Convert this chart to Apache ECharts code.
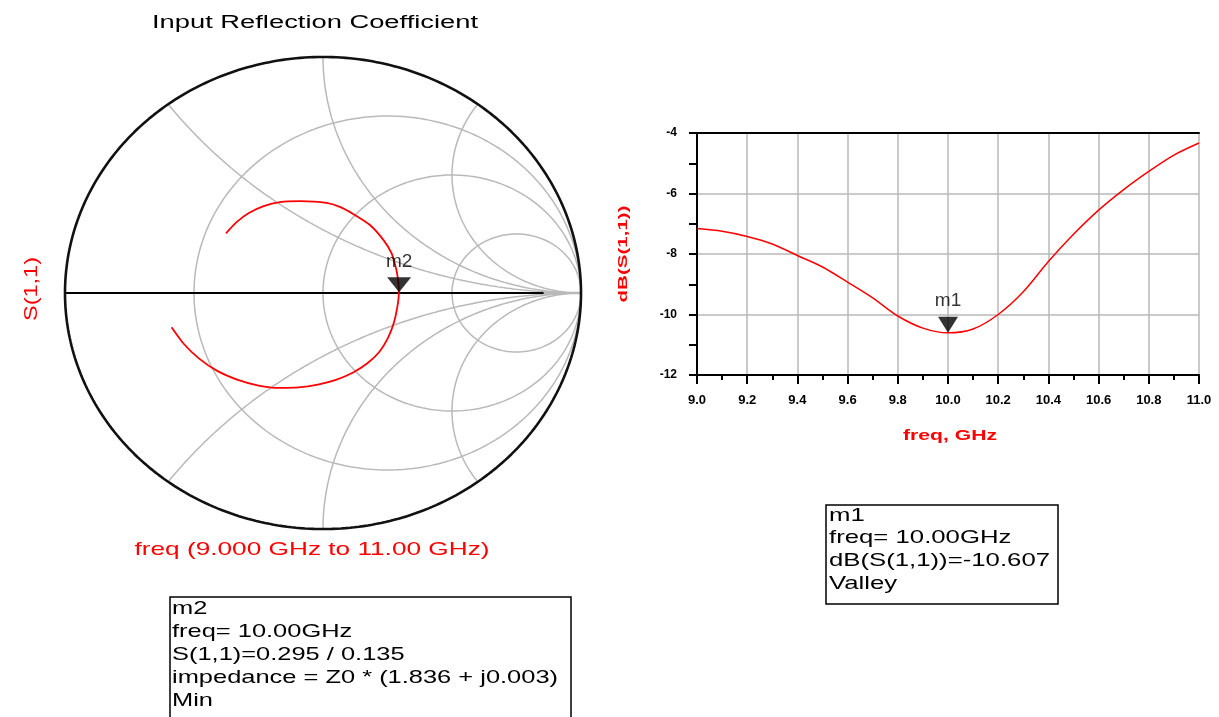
<!DOCTYPE html>
<html><head><meta charset="utf-8">
<script src="https://cdn.jsdelivr.net/npm/echarts@6/dist/echarts.min.js"></script>
<style>html,body{margin:0;padding:0;background:#fff}#c{width:1219px;height:717px}</style>
</head><body><div id="c"></div>
<script>
// ---- data ----
const freqGHz = [9.0, 9.1, 9.2, 9.3, 9.4, 9.5, 9.6, 9.7, 9.8, 9.9, 10.0, 10.1, 10.2, 10.3, 10.4, 10.5, 10.6, 10.7, 10.8, 10.9, 11.0];
const dBS11 = [-7.16, -7.25, -7.42, -7.67, -8.05, -8.43, -8.93, -9.45, -10.05, -10.45, -10.607, -10.48, -10.00, -9.25, -8.25, -7.35, -6.55, -5.87, -5.27, -4.73, -4.33];
// S(1,1) trace on the Smith chart (real, imaginary), 9 GHz -> 11 GHz
const s11Re = [-0.376, -0.335, -0.289, -0.230, -0.167, -0.089, 0.014, 0.065, 0.117, 0.182, 0.234, 0.266, 0.284, 0.292, 0.294,
  0.288, 0.275, 0.252, 0.218, 0.172, 0.115, 0.050, -0.020, -0.095, -0.170, -0.250, -0.330, -0.410, -0.480, -0.540, -0.587];
const s11Im = [0.253, 0.300, 0.338, 0.368, 0.385, 0.389, 0.382, 0.365, 0.335, 0.288, 0.225, 0.168, 0.100, 0.045, 0.000,
  -0.060, -0.125, -0.190, -0.250, -0.298, -0.338, -0.368, -0.388, -0.400, -0.402, -0.392, -0.368, -0.330, -0.278, -0.215, -0.145];
const m1Freq = 10.0, m1dB = -10.607;
const m2Mag = 0.295, m2AngDeg = 0.135;
// Smith chart grid values
const resistanceCircles = [1 / 3, 1, 3];
const reactanceArcs = [0.5, 1, 2, -0.5, -1, -2];
// rectangular plot axis
const xMin = 9.0, xMax = 11.0, xStep = 0.2;
const yMin = -12, yMax = -4, yStep = 2;
// texts
const titleText = 'Input Reflection Coefficient';
const smithYName = 'S(1,1)';
const smithXName = 'freq (9.000 GHz to 11.00 GHz)';
const rectYName = 'dB(S(1,1))';
const rectXName = 'freq, GHz';
const m1Lines = ['m1', 'freq= 10.00GHz', 'dB(S(1,1))=-10.607', 'Valley'];
const m2Lines = ['m2', 'freq= 10.00GHz', 'S(1,1)=0.295 / 0.135', 'impedance = Z0 * (1.836 + j0.003)', 'Min'];

// ---- helpers ----
const FONT = '"Liberation Sans", Arial, sans-serif';
const mctx = document.createElement('canvas').getContext('2d');
function measure(str, size, weight) {
  mctx.font = (weight || 'normal') + ' ' + size + 'px ' + FONT;
  return mctx.measureText(str).width;
}
function txt(str, o) {
  const sx = o.scaleX || (o.width ? o.width / measure(str, o.size, o.weight) : 1);
  return {
    type: 'text', x: o.x, y: o.y, rotation: o.rotation || 0, scaleX: sx, silent: true, z: 100,
    style: {
      text: str, fontSize: o.size, fontWeight: o.weight || 'normal', fontFamily: FONT,
      fill: o.color || '#000', textAlign: o.align || 'left',
      textVerticalAlign: 'middle', verticalAlign: 'middle'
    }
  };
}
function gamma(r, x) {
  const den = (r + 1) * (r + 1) + x * x;
  return [(r * r + x * x - 1) / den, (2 * x) / den];
}
const GRAY = '#b9b9b9';
function gridLine(data, color, width) {
  return {
    type: 'line', xAxisIndex: 0, yAxisIndex: 0, data: data, showSymbol: false, silent: true,
    lineStyle: { color: color, width: width }, z: 1, clip: false
  };
}

// ---- Smith chart grid ----
const smithSeries = [];
const outer = [];
for (let i = 0; i <= 360; i++) { const t = i * Math.PI / 180; outer.push([Math.cos(t), Math.sin(t)]); }
resistanceCircles.forEach(r => {
  const pts = [];
  for (let i = 0; i <= 720; i++) {
    const phi = -Math.PI / 2 + 0.0005 + (Math.PI - 0.001) * i / 720;
    pts.push(gamma(r, Math.tan(phi)));
  }
  smithSeries.push(gridLine(pts, GRAY, 1.5));
});
reactanceArcs.forEach(x => {
  const pts = [];
  for (let i = 0; i <= 600; i++) {
    const t = i / 600 * 0.998;
    pts.push(gamma(t / (1 - t), x));
  }
  smithSeries.push(gridLine(pts, GRAY, 1.5));
});
smithSeries.push(gridLine([[0.855, 0], [1, 0]], GRAY, 2.5));
smithSeries.push(gridLine([[-1, 0], [0.855, 0]], '#000', 1.8));
smithSeries.push(gridLine(outer, '#111', 2.6));

const s11Data = s11Re.map((v, i) => [v, s11Im[i]]);
const m2Point = [m2Mag * Math.cos(m2AngDeg * Math.PI / 180), m2Mag * Math.sin(m2AngDeg * Math.PI / 180)];

const chart = echarts.init(document.getElementById('c'), null, { renderer: 'canvas' });

const m1Scale = 221 / measure(m1Lines[2], 19);
const m2Scale = 386 / measure(m2Lines[3], 19);

const graphics = [
  txt(titleText, { x: 315, y: 23, size: 18, width: 326, align: 'center' }),
  txt(smithYName, { x: 32, y: 289, size: 19, width: 64, align: 'center', color: '#ff0000', rotation: Math.PI / 2 }),
  txt(smithXName, { x: 312, y: 550, size: 19, width: 355, align: 'center', color: '#ff0000' }),
  txt(rectYName, { x: 623, y: 254, size: 13, weight: 'bold', width: 97, align: 'center', color: '#ff0000', rotation: Math.PI / 2 }),
  txt(rectXName, { x: 950, y: 436, size: 14, weight: 'bold', width: 94, align: 'center', color: '#ff0000' }),
  { type: 'rect', shape: { x: 826, y: 505, width: 232, height: 99 }, style: { fill: '#fff', stroke: '#000', lineWidth: 1.5 }, silent: true, z: 90 },
  { type: 'rect', shape: { x: 170, y: 597, width: 401, height: 130 }, style: { fill: '#fff', stroke: '#000', lineWidth: 1.5 }, silent: true, z: 90 }
];
const m1Y = [516, 538, 561, 584];
m1Lines.forEach((s, i) => graphics.push(txt(s, { x: 829, y: m1Y[i], size: 19, scaleX: m1Scale })));
const m2Y = [609, 632, 655, 678, 701];
m2Lines.forEach((s, i) => graphics.push(txt(s, { x: 172, y: m2Y[i], size: 19, scaleX: m2Scale })));

chart.setOption({
  animation: false,
  backgroundColor: '#fff',
  grid: [
    { left: 65, top: 57, width: 516, height: 472, show: false },
    { left: 697, top: 133, width: 502, height: 242, show: false }
  ],
  xAxis: [
    { gridIndex: 0, type: 'value', min: -1, max: 1, show: false },
    {
      gridIndex: 1, type: 'value', min: xMin, max: xMax, interval: xStep,
      axisLine: { show: true, onZero: false, lineStyle: { color: '#000', width: 2 } },
      axisTick: { show: true, inside: false, length: 9, lineStyle: { color: '#000', width: 2 } },
      minorTick: { show: true, splitNumber: 2, length: 5, lineStyle: { color: '#000', width: 2 } },
      axisLabel: { margin: 19, color: '#000', fontSize: 13, fontWeight: 'bold', fontFamily: FONT, formatter: v => v.toFixed(1) },
      splitLine: { show: true, lineStyle: { color: GRAY, width: 1.5 } }
    },
    {
      gridIndex: 1, type: 'value', min: xMin, max: xMax, position: 'top',
      axisLine: { show: true, onZero: false, lineStyle: { color: '#000', width: 2 } },
      axisTick: { show: false }, axisLabel: { show: false }, splitLine: { show: false }
    }
  ],
  yAxis: [
    { gridIndex: 0, type: 'value', min: -1, max: 1, show: false },
    {
      gridIndex: 1, type: 'value', min: yMin, max: yMax, interval: yStep,
      axisLine: { show: true, onZero: false, lineStyle: { color: '#000', width: 2 } },
      axisTick: { show: true, inside: false, length: 8, lineStyle: { color: '#000', width: 2 } },
      minorTick: { show: true, splitNumber: 2, length: 8, lineStyle: { color: '#000', width: 2 } },
      axisLabel: { margin: 20, color: '#000', fontSize: 12, fontWeight: 'bold', fontFamily: FONT },
      splitLine: { show: true, lineStyle: { color: GRAY, width: 1.5 } }
    }
  ],
  series: smithSeries.concat([
    {
      type: 'line', xAxisIndex: 0, yAxisIndex: 0, data: s11Data, showSymbol: false, smooth: 0.2,
      lineStyle: { color: '#ff0000', width: 1.8 }, z: 5
    },
    {
      type: 'scatter', xAxisIndex: 0, yAxisIndex: 0, data: [m2Point], symbol: 'triangle', symbolRotate: 180,
      symbolSize: [24, 15], symbolOffset: [0, -8], itemStyle: { color: '#000' }, z: 10,
      label: { show: true, position: 'top', distance: 6, formatter: 'm2', color: '#000', fontSize: 19, fontFamily: FONT }
    },
    {
      type: 'line', xAxisIndex: 1, yAxisIndex: 1, data: freqGHz.map((f, i) => [f, dBS11[i]]),
      showSymbol: false, smooth: 0.3, lineStyle: { color: '#ff0000', width: 1.5 }, z: 5
    },
    {
      type: 'scatter', xAxisIndex: 1, yAxisIndex: 1, data: [[m1Freq, m1dB]], symbol: 'triangle', symbolRotate: 180,
      symbolSize: [20, 16], symbolOffset: [0, -8], itemStyle: { color: '#000' }, z: 10,
      label: { show: true, position: 'top', distance: 7, formatter: 'm1', color: '#000', fontSize: 19, fontFamily: FONT }
    }
  ]),
  graphic: { elements: graphics }
});
</script>
</body></html>
